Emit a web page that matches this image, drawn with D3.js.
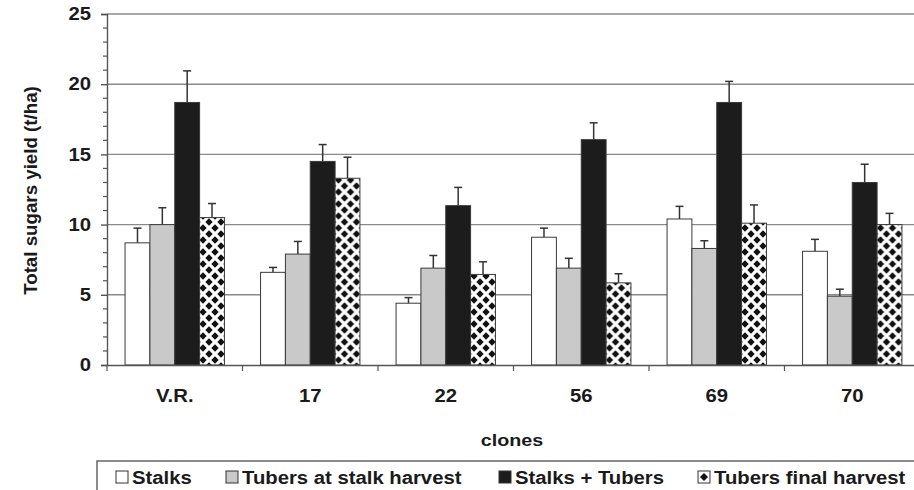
<!DOCTYPE html>
<html>
<head>
<meta charset="utf-8">
<script src="https://cdn.jsdelivr.net/npm/d3@7"></script>
<style>
  body { margin: 0; background: #fff; }
  svg { display: block; font-family: "Liberation Sans", Arial, sans-serif; }
  text { font-weight: bold; fill: #1a1a1a; }
</style>
</head>
<body>
<svg id="chart" width="914" height="490"></svg>
<script>
// clones and the four series (t/ha), with error bar heights
const clones = ["V.R.", "17", "22", "56", "69", "70"];
const seriesNames = ["Stalks", "Tubers at stalk harvest", "Stalks + Tubers", "Tubers final harvest"];
const stalks = [8.7, 6.6, 4.4, 9.1, 10.4, 8.1];
const stalksErr = [1.05, 0.35, 0.4, 0.65, 0.9, 0.85];
const tubersStalk = [10.0, 7.9, 6.9, 6.9, 8.3, 4.9];
const tubersStalkErr = [1.2, 0.9, 0.9, 0.7, 0.55, 0.5];
const stalksTubers = [18.7, 14.5, 11.35, 16.05, 18.7, 13.0];
const stalksTubersErr = [2.25, 1.2, 1.3, 1.2, 1.5, 1.3];
const tubersFinal = [10.5, 13.3, 6.45, 5.85, 10.1, 10.0];
const tubersFinalErr = [1.0, 1.5, 0.9, 0.65, 1.3, 0.8];
const yTicks = [0, 5, 10, 15, 20, 25];

const values = [stalks, tubersStalk, stalksTubers, tubersFinal];
const errors = [stalksErr, tubersStalkErr, stalksTubersErr, tubersFinalErr];

const svg = d3.select("#chart");
const plotL = 107, plotR = 920, plotT = 14, plotB = 365;
const SX = 1.16; // the scanned figure is a bit wider than tall

// widen text about its anchor point
function stretch(sel, k) {
    sel.each(function() {
        const t = d3.select(this);
        const tx = +t.attr("x") || 0, ty = +t.attr("y") || 0;
        t.attr("x", 0).attr("y", 0)
            .attr("transform", `translate(${tx},${ty}) scale(${k || SX},1)`);
    });
}

// diamond pattern for last series
const defs = svg.append("defs");
const pat = defs.append("pattern")
    .attr("id", "diamonds")
    .attr("patternUnits", "userSpaceOnUse")
    .attr("width", 12).attr("height", 12);
pat.append("rect").attr("width", 12).attr("height", 12).attr("fill", "#fff");
[[0, 0], [12, 0], [0, 12], [12, 12], [6, 6]].forEach(([cx, cy]) => {
    const r = 3.7;
    pat.append("path")
        .attr("d", `M${cx},${cy - r}L${cx + r},${cy}L${cx},${cy + r}L${cx - r},${cy}Z`)
        .attr("fill", "#111");
});
const fills = ["#ffffff", "#c9c9c9", "#1c1c1c", "url(#diamonds)"];

const x0 = d3.scaleBand().domain(clones).range([plotL, plotR]);
const x1 = d3.scaleBand().domain(d3.range(4)).range([0, x0.bandwidth()])
    .paddingInner(0).paddingOuter(0.727);
const y = d3.scaleLinear().domain([0, 25]).range([plotB, plotT]);

// gridlines
svg.append("g")
    .selectAll("line")
    .data(yTicks.slice(1))
    .join("line")
    .attr("x1", plotL).attr("x2", plotR)
    .attr("y1", d => y(d)).attr("y2", d => y(d))
    .attr("stroke", "#8a8a8a")
    .attr("stroke-width", 1.4);

// bars
const groups = svg.append("g")
    .selectAll("g")
    .data(clones)
    .join("g")
    .attr("transform", d => `translate(${x0(d)},0)`);

groups.each(function(c, ci) {
    const g = d3.select(this);
    d3.range(4).forEach(si => {
        const v = values[si][ci], e = errors[si][ci];
        const bx = x1(si), bw = x1.bandwidth();
        g.append("line")
            .attr("x1", bx + bw / 2).attr("x2", bx + bw / 2)
            .attr("y1", y(v)).attr("y2", y(v + e))
            .attr("stroke", "#333").attr("stroke-width", 1.5);
        g.append("line")
            .attr("x1", bx + bw / 2 - 4).attr("x2", bx + bw / 2 + 4)
            .attr("y1", y(v + e)).attr("y2", y(v + e))
            .attr("stroke", "#333").attr("stroke-width", 1.5);
        g.append("rect")
            .attr("x", bx).attr("width", bw)
            .attr("y", y(v)).attr("height", y(0) - y(v))
            .attr("fill", fills[si])
            .attr("stroke", "#3a3a3a")
            .attr("stroke-width", 1);
    });
});

// y axis
const yAxis = svg.append("g")
    .attr("transform", `translate(${plotL},0)`)
    .call(d3.axisLeft(y).tickValues(yTicks).tickSize(6).tickPadding(10));
yAxis.select(".domain").attr("stroke", "#555").attr("stroke-width", 1.4);
yAxis.selectAll(".tick line").attr("stroke", "#555").attr("stroke-width", 1.4);
yAxis.selectAll(".tick text").attr("font-size", 17.5).attr("fill", "#1a1a1a")
    .attr("font-family", "Liberation Sans, Arial, sans-serif").attr("font-weight", "bold")
    .call(stretch);
svg.append("g")
    .selectAll("line")
    .data(d3.range(0, 26).filter(v => v % 5 !== 0))
    .join("line")
    .attr("x1", plotL - 4).attr("x2", plotL)
    .attr("y1", d => y(d)).attr("y2", d => y(d))
    .attr("stroke", "#555").attr("stroke-width", 1.2);

// x axis
const xAxis = svg.append("g")
    .attr("transform", `translate(0,${plotB})`)
    .call(d3.axisBottom(x0).tickSize(0).tickPadding(25));
xAxis.select(".domain").attr("stroke", "#555").attr("stroke-width", 1.4);
xAxis.selectAll(".tick text").attr("font-size", 17.5).attr("fill", "#1a1a1a")
    .attr("font-family", "Liberation Sans, Arial, sans-serif").attr("font-weight", "bold")
    .call(stretch);
svg.append("g")
    .selectAll("line")
    .data(clones)
    .join("line")
    .attr("x1", d => x0(d)).attr("x2", d => x0(d))
    .attr("y1", plotB).attr("y2", plotB + 6)
    .attr("stroke", "#555").attr("stroke-width", 1.2);

// axis titles
svg.append("text")
    .attr("transform", `translate(37,${(plotT + plotB) / 2 + 1}) rotate(-90) scale(1.04,1)`)
    .attr("text-anchor", "middle")
    .attr("font-size", 18)
    .text("Total sugars yield (t/ha)");
svg.append("text")
    .attr("x", 512).attr("y", 446)
    .attr("text-anchor", "middle")
    .attr("font-size", 17)
    .text("clones")
    .call(stretch);

// legend
svg.append("rect")
    .attr("x", 97).attr("y", 461)
    .attr("width", 840).attr("height", 60)
    .attr("fill", "none")
    .attr("stroke", "#666")
    .attr("stroke-width", 1.5);
const legendX = [116, 226, 499, 698];
seriesNames.forEach((name, i) => {
    svg.append("rect")
        .attr("x", legendX[i]).attr("y", 471)
        .attr("width", 12).attr("height", 12)
        .attr("fill", i === 3 ? "#fff" : fills[i])
        .attr("stroke", "#333").attr("stroke-width", 1);
    if (i === 3) {
        const cx = legendX[i] + 6, cy = 477, r = 4;
        svg.append("path")
            .attr("d", `M${cx},${cy - r}L${cx + r},${cy}L${cx},${cy + r}L${cx - r},${cy}Z`)
            .attr("fill", "#111");
    }
    svg.append("text")
        .attr("x", legendX[i] + 16).attr("y", 484)
        .attr("font-size", 17.5)
        .text(name)
        .call(stretch);
});
</script>
</body>
</html>
